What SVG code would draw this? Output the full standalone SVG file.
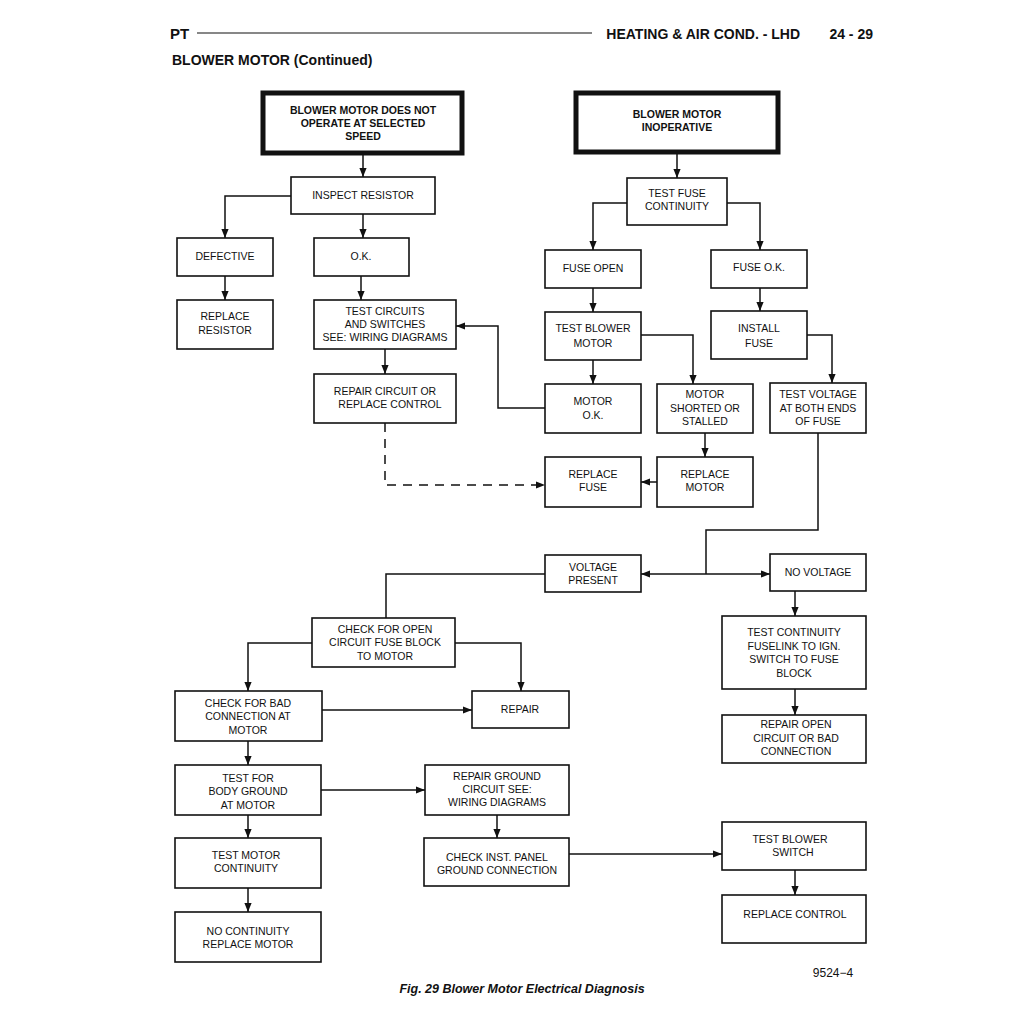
<svg xmlns="http://www.w3.org/2000/svg" width="1024" height="1024" viewBox="0 0 1024 1024">
<defs>
<marker id="ar" viewBox="0 0 10 10" refX="10" refY="5" markerWidth="9" markerHeight="9" markerUnits="userSpaceOnUse" orient="auto"><path d="M0,1 L10,5 L0,9 z" fill="#111"/></marker>
<style>
.b{fill:#fff;stroke:#111;stroke-width:1.6}
.t{fill:#fff;stroke:#111;stroke-width:5}
text{font-family:"Liberation Sans",Arial,sans-serif;font-size:10.5px;fill:#111;text-anchor:middle}
.bold{font-weight:bold}
.c path{fill:none;stroke:#111;stroke-width:1.5}
.c .a{marker-end:url(#ar)}
</style>
</defs>
<rect width="1024" height="1024" fill="#fff"/>
<g id="header">
<text x="170" y="39" class="bold" style="font-size:15px;text-anchor:start">PT</text>
<line x1="197" y1="33" x2="592" y2="33" stroke="#111" stroke-width="1.2"/>
<text x="800" y="39" class="bold" style="font-size:14px;text-anchor:end">HEATING &amp; AIR COND. - LHD</text>
<text x="873" y="39" class="bold" style="font-size:14px;text-anchor:end">24 - 29</text>
<text x="172" y="65" class="bold" style="font-size:14px;text-anchor:start">BLOWER MOTOR (Continued)</text>
</g>
<g class="c" id="connectors">
<path class="a" d="M363,153 V177"/>
<path class="a" d="M291,196 H225 V238"/>
<path class="a" d="M363,214 V238"/>
<path class="a" d="M225,276 V300"/>
<path class="a" d="M361,276 V300"/>
<path class="a" d="M385,349 V374"/>
<path class="a" d="M545,408 H498 V326 H456"/>
<path class="a" d="M385,423 V485 H545" stroke-dasharray="9,7"/>
<path class="a" d="M677,152 V178"/>
<path class="a" d="M627,203 H593 V250"/>
<path class="a" d="M727,203 H760 V250"/>
<path class="a" d="M593,288 V312"/>
<path class="a" d="M593,360 V384"/>
<path class="a" d="M641,335 H693 V384"/>
<path class="a" d="M705,433 V457"/>
<path class="a" d="M657,482 H641"/>
<path class="a" d="M760,288 V311"/>
<path class="a" d="M807,335 H832 V383"/>
<path d="M818,433 V530 H706 V574"/>
<path class="a" d="M706,574 H641"/>
<path class="a" d="M706,574 H770"/>
<path d="M545,574 H386 V618"/>
<path class="a" d="M312,643 H248 V691"/>
<path class="a" d="M455,643 H521 V691"/>
<path class="a" d="M322,710 H472"/>
<path class="a" d="M248,741 V765"/>
<path class="a" d="M321,790 H425"/>
<path class="a" d="M248,815 V838"/>
<path class="a" d="M248,888 V912"/>
<path class="a" d="M497,815 V838"/>
<path class="a" d="M569,854 H722"/>
<path class="a" d="M795,591 V616"/>
<path class="a" d="M795,689 V715"/>
<path class="a" d="M795,870 V895"/>
</g>
<g id="n1"><rect class="t" x="263" y="93" width="199" height="60"/><text class="bold" x="363" y="114">BLOWER MOTOR DOES NOT</text><text class="bold" x="363" y="127">OPERATE AT SELECTED</text><text class="bold" x="363" y="140">SPEED</text></g>
<g id="n2"><rect class="t" x="576" y="93" width="202" height="59"/><text class="bold" x="677" y="118">BLOWER MOTOR</text><text class="bold" x="677" y="131">INOPERATIVE</text></g>
<g id="n3"><rect class="b" x="291" y="177" width="144" height="37"/><text x="363" y="199">INSPECT RESISTOR</text></g>
<g id="n4"><rect class="b" x="627" y="178" width="100" height="47"/><text x="677" y="197">TEST FUSE</text><text x="677" y="210">CONTINUITY</text></g>
<g id="n5"><rect class="b" x="177" y="238" width="96" height="38"/><text x="225" y="260">DEFECTIVE</text></g>
<g id="n6"><rect class="b" x="314" y="238" width="95" height="38"/><text x="361" y="260">O.K.</text></g>
<g id="n7"><rect class="b" x="545" y="250" width="96" height="38"/><text x="593" y="272">FUSE OPEN</text></g>
<g id="n8"><rect class="b" x="711" y="250" width="96" height="38"/><text x="759" y="271">FUSE O.K.</text></g>
<g id="n9"><rect class="b" x="177" y="300" width="96" height="49"/><text x="225" y="320">REPLACE</text><text x="225" y="334">RESISTOR</text></g>
<g id="n10"><rect class="b" x="314" y="300" width="142" height="49"/><text x="385" y="315">TEST CIRCUITS</text><text x="385" y="328">AND SWITCHES</text><text x="385" y="341">SEE: WIRING DIAGRAMS</text></g>
<g id="n11"><rect class="b" x="545" y="312" width="96" height="48"/><text x="593" y="332">TEST BLOWER</text><text x="593" y="347">MOTOR</text></g>
<g id="n12"><rect class="b" x="711" y="311" width="96" height="48"/><text x="759" y="332">INSTALL</text><text x="759" y="347">FUSE</text></g>
<g id="n13"><rect class="b" x="314" y="374" width="142" height="49"/><text x="385" y="395">REPAIR CIRCUIT OR</text><text x="390" y="408">REPLACE CONTROL</text></g>
<g id="n14"><rect class="b" x="545" y="384" width="96" height="49"/><text x="593" y="405">MOTOR</text><text x="593" y="419">O.K.</text></g>
<g id="n15"><rect class="b" x="657" y="384" width="96" height="49"/><text x="705" y="398">MOTOR</text><text x="705" y="412">SHORTED OR</text><text x="705" y="425">STALLED</text></g>
<g id="n16"><rect class="b" x="770" y="383" width="96" height="50"/><text x="818" y="398">TEST VOLTAGE</text><text x="818" y="412">AT BOTH ENDS</text><text x="818" y="425">OF FUSE</text></g>
<g id="n17"><rect class="b" x="545" y="457" width="96" height="50"/><text x="593" y="478">REPLACE</text><text x="593" y="491">FUSE</text></g>
<g id="n18"><rect class="b" x="657" y="457" width="96" height="50"/><text x="705" y="478">REPLACE</text><text x="705" y="491">MOTOR</text></g>
<g id="n19"><rect class="b" x="545" y="555" width="96" height="37"/><text x="593" y="571">VOLTAGE</text><text x="593" y="584">PRESENT</text></g>
<g id="n20"><rect class="b" x="770" y="554" width="96" height="37"/><text x="818" y="576">NO VOLTAGE</text></g>
<g id="n21"><rect class="b" x="312" y="618" width="143" height="49"/><text x="385" y="633">CHECK FOR OPEN</text><text x="385" y="646">CIRCUIT FUSE BLOCK</text><text x="385" y="660">TO MOTOR</text></g>
<g id="n22"><rect class="b" x="722" y="616" width="144" height="73"/><text x="794" y="636">TEST CONTINUITY</text><text x="794" y="650">FUSELINK TO IGN.</text><text x="794" y="663">SWITCH TO FUSE</text><text x="794" y="677">BLOCK</text></g>
<g id="n23"><rect class="b" x="175" y="691" width="147" height="50"/><text x="248" y="707">CHECK FOR BAD</text><text x="248" y="720">CONNECTION AT</text><text x="248" y="734">MOTOR</text></g>
<g id="n24"><rect class="b" x="472" y="691" width="97" height="37"/><text x="520" y="713">REPAIR</text></g>
<g id="n25"><rect class="b" x="722" y="715" width="144" height="48"/><text x="796" y="728">REPAIR OPEN</text><text x="796" y="742">CIRCUIT OR BAD</text><text x="796" y="755">CONNECTION</text></g>
<g id="n26"><rect class="b" x="175" y="765" width="146" height="50"/><text x="248" y="782">TEST FOR</text><text x="248" y="795">BODY GROUND</text><text x="248" y="809">AT MOTOR</text></g>
<g id="n27"><rect class="b" x="425" y="765" width="144" height="50"/><text x="497" y="780">REPAIR GROUND</text><text x="497" y="793">CIRCUIT SEE:</text><text x="497" y="806">WIRING DIAGRAMS</text></g>
<g id="n28"><rect class="b" x="175" y="838" width="146" height="50"/><text x="246" y="859">TEST MOTOR</text><text x="246" y="872">CONTINUITY</text></g>
<g id="n29"><rect class="b" x="424" y="838" width="145" height="48"/><text x="497" y="861">CHECK INST. PANEL</text><text x="497" y="874">GROUND CONNECTION</text></g>
<g id="n30"><rect class="b" x="722" y="822" width="144" height="48"/><text x="790" y="843">TEST BLOWER</text><text x="793" y="856">SWITCH</text></g>
<g id="n31"><rect class="b" x="722" y="895" width="144" height="48"/><text x="795" y="918">REPLACE CONTROL</text></g>
<g id="n32"><rect class="b" x="175" y="912" width="146" height="50"/><text x="248" y="935">NO CONTINUITY</text><text x="248" y="948">REPLACE MOTOR</text></g>
<g id="footer">
<text x="833" y="977" style="font-size:12px">9524−4</text>
<text x="522" y="993" class="bold" style="font-size:12.5px;font-style:italic">Fig. 29 Blower Motor Electrical Diagnosis</text>
</g>
</svg>
